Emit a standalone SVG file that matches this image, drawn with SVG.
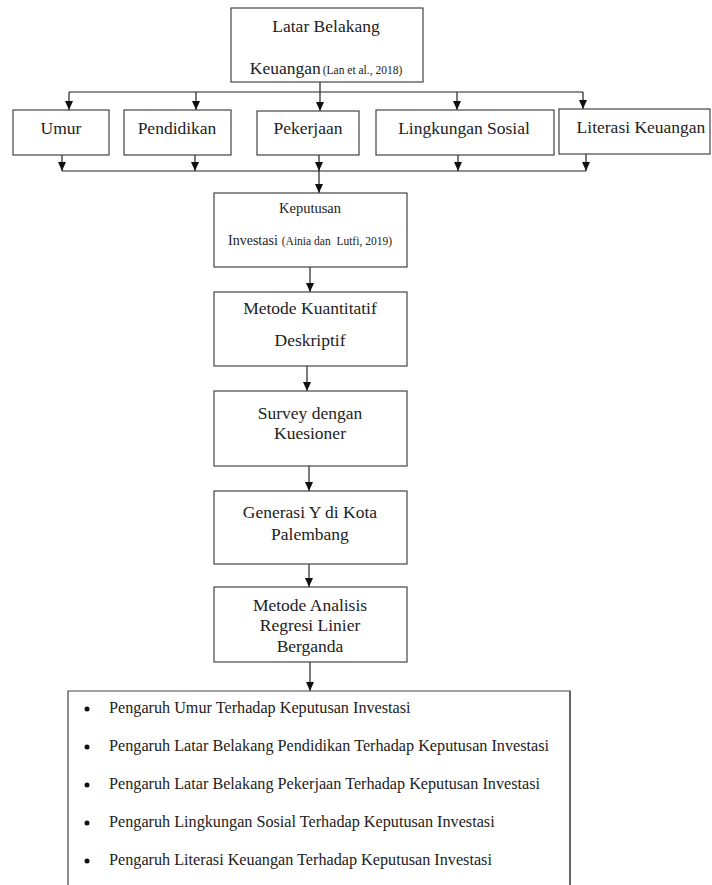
<svg xmlns="http://www.w3.org/2000/svg" width="712" height="885" viewBox="0 0 712 885">
<defs>
<style>
.box{fill:#fff;stroke:#444;stroke-width:1.2}
.t{font-family:"Liberation Serif","Times New Roman",serif;fill:#222;text-anchor:middle}
.m{font-size:17.5px}
.s{font-size:11.5px}
.l{font-family:"Liberation Serif","Times New Roman",serif;fill:#222;font-size:16.2px}
.c{fill:none;stroke:#222;stroke-width:1.2}
</style>
<marker id="ah" markerUnits="userSpaceOnUse" markerWidth="9" markerHeight="8" refX="9" refY="4" orient="auto" viewBox="0 0 9 8">
<path d="M0,0 L9,4 L0,8 Z" fill="#111"/>
</marker>
</defs>
<rect width="712" height="885" fill="#fff"/>

<g id="connectors">
<line class="c" x1="320" y1="82" x2="320" y2="92"/>
<line class="c" x1="69" y1="92" x2="583" y2="92"/>
<path class="c" d="M69,92 V110" marker-end="url(#ah)"/>
<path class="c" d="M196,92 V110" marker-end="url(#ah)"/>
<path class="c" d="M320,92 V111" marker-end="url(#ah)"/>
<path class="c" d="M457,92 V110" marker-end="url(#ah)"/>
<path class="c" d="M583,92 V109" marker-end="url(#ah)"/>
<path class="c" d="M62,155 V171" marker-end="url(#ah)"/>
<path class="c" d="M195,155 V171" marker-end="url(#ah)"/>
<path class="c" d="M319,155 V171" marker-end="url(#ah)"/>
<path class="c" d="M458,155 V171" marker-end="url(#ah)"/>
<path class="c" d="M586,154 V171" marker-end="url(#ah)"/>
<line class="c" x1="62" y1="171" x2="586" y2="171"/>
<path class="c" d="M319,171 V193" marker-end="url(#ah)"/>
<path class="c" d="M310,267 V292" marker-end="url(#ah)"/>
<path class="c" d="M307,366 V391" marker-end="url(#ah)"/>
<path class="c" d="M309,466 V491" marker-end="url(#ah)"/>
<path class="c" d="M309,564 V587" marker-end="url(#ah)"/>
<path class="c" d="M310,662 V691" marker-end="url(#ah)"/>
</g>

<g id="latar-belakang">
<rect class="box" x="231" y="8" width="192" height="74"/>
<text class="t m" x="326" y="32">Latar Belakang</text>
<text class="t" x="326" y="74"><tspan class="m">Keuangan</tspan><tspan class="s" dx="2">(Lan et al., 2018)</tspan></text>
</g>

<g id="umur">
<rect class="box" x="13" y="110" width="96" height="45"/>
<text class="t m" x="61" y="134">Umur</text>
</g>
<g id="pendidikan">
<rect class="box" x="124" y="110" width="107" height="45"/>
<text class="t m" x="177" y="134">Pendidikan</text>
</g>
<g id="pekerjaan">
<rect class="box" x="257" y="111" width="102" height="44"/>
<text class="t m" x="308" y="134">Pekerjaan</text>
</g>
<g id="lingkungan-sosial">
<rect class="box" x="376" y="110" width="178" height="45"/>
<text class="t m" x="464" y="134">Lingkungan Sosial</text>
</g>
<g id="literasi-keuangan">
<rect class="box" x="559" y="109" width="151" height="45"/>
<text class="t m" x="641" y="133">Literasi Keuangan</text>
</g>

<g id="keputusan-investasi">
<rect class="box" x="214" y="193" width="193" height="74"/>
<text class="t" x="310" y="213" style="font-size:14.5px">Keputusan</text>
<text class="t" x="310" y="245"><tspan style="font-size:14px">Investasi</tspan><tspan class="s" dx="4">(Ainia dan&#160; Lutfi, 2019)</tspan></text>
</g>

<g id="metode-kuantitatif">
<rect class="box" x="214" y="292" width="193" height="74"/>
<text class="t m" x="310" y="314">Metode Kuantitatif</text>
<text class="t m" x="310" y="346">Deskriptif</text>
</g>

<g id="survey">
<rect class="box" x="214" y="391" width="193" height="75"/>
<text class="t m" x="310" y="419">Survey dengan</text>
<text class="t m" x="310" y="439">Kuesioner</text>
</g>

<g id="generasi-y">
<rect class="box" x="214" y="491" width="193" height="73"/>
<text class="t m" x="310" y="518">Generasi Y di Kota</text>
<text class="t m" x="310" y="540">Palembang</text>
</g>

<g id="metode-analisis">
<rect class="box" x="214" y="587" width="193" height="75"/>
<text class="t m" x="310" y="611">Metode Analisis</text>
<text class="t m" x="310" y="631">Regresi Linier</text>
<text class="t m" x="310" y="652">Berganda</text>
</g>

<g id="hasil">
<path d="M68,900 V691 H570 V900" fill="#fff" stroke="#444" stroke-width="1.2"/>
<line x1="570" y1="691" x2="570" y2="885" stroke="#666" stroke-width="2"/>
<circle cx="87" cy="709" r="2.5" fill="#111"/>
<circle cx="87" cy="747" r="2.5" fill="#111"/>
<circle cx="87" cy="785" r="2.5" fill="#111"/>
<circle cx="87" cy="823" r="2.5" fill="#111"/>
<circle cx="87" cy="861" r="2.5" fill="#111"/>
<text class="l" x="109" y="713">Pengaruh Umur Terhadap Keputusan Investasi</text>
<text class="l" x="109" y="751">Pengaruh Latar Belakang Pendidikan Terhadap Keputusan Investasi</text>
<text class="l" x="109" y="789">Pengaruh Latar Belakang Pekerjaan Terhadap Keputusan Investasi</text>
<text class="l" x="109" y="827">Pengaruh Lingkungan Sosial Terhadap Keputusan Investasi</text>
<text class="l" x="109" y="865">Pengaruh Literasi Keuangan Terhadap Keputusan Investasi</text>
</g>
</svg>
